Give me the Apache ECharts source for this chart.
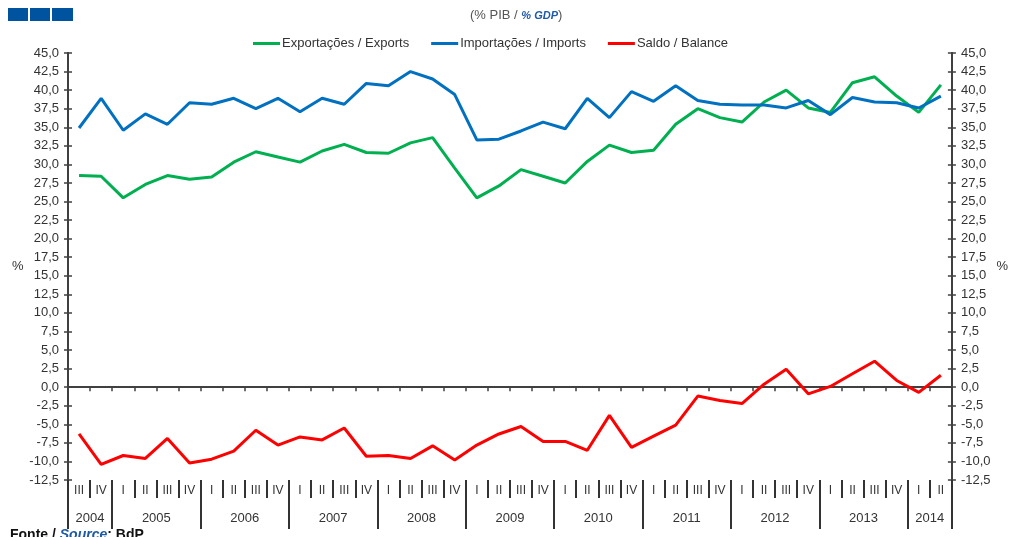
<!DOCTYPE html>
<html>
<head>
<meta charset="utf-8">
<title>Exportações / Importações (% PIB)</title>
<script src="https://cdn.jsdelivr.net/npm/echarts@6/dist/echarts.min.js"></script>
<style>
html, body { margin: 0; padding: 0; background: #fff; }
#chartmain { width: 1011px; height: 537px; }
</style>
</head>
<body>
<div id="chartmain"></div>
<script>
var quarters = ['III', 'IV',
	'I', 'II', 'III', 'IV', 'I', 'II', 'III', 'IV', 'I', 'II', 'III', 'IV',
	'I', 'II', 'III', 'IV', 'I', 'II', 'III', 'IV', 'I', 'II', 'III', 'IV',
	'I', 'II', 'III', 'IV', 'I', 'II', 'III', 'IV', 'I', 'II', 'III', 'IV',
	'I', 'II'];
var years = ['2004', '2004',
	'2005', '2005', '2005', '2005', '2006', '2006', '2006', '2006',
	'2007', '2007', '2007', '2007', '2008', '2008', '2008', '2008',
	'2009', '2009', '2009', '2009', '2010', '2010', '2010', '2010',
	'2011', '2011', '2011', '2011', '2012', '2012', '2012', '2012',
	'2013', '2013', '2013', '2013', '2014', '2014'];

var exportsPib = [28.5, 28.4, 25.5, 27.3, 28.5, 28.0, 28.3, 30.3, 31.7, 31.0,
	30.3, 31.8, 32.7, 31.6, 31.5, 32.9, 33.6, 29.5, 25.5, 27.1,
	29.3, 28.4, 27.5, 30.4, 32.6, 31.6, 31.9, 35.4, 37.5, 36.3,
	35.7, 38.4, 40.0, 37.6, 37.0, 41.0, 41.8, 39.2, 37.0, 40.7];
var importsPib = [34.9, 38.9, 34.6, 36.8, 35.4, 38.3, 38.1, 38.9, 37.5, 38.9,
	37.1, 38.9, 38.1, 40.9, 40.6, 42.5, 41.5, 39.4, 33.3, 33.4,
	34.5, 35.7, 34.8, 38.9, 36.3, 39.8, 38.5, 40.6, 38.6, 38.1,
	38.0, 38.0, 37.6, 38.6, 36.7, 39.0, 38.4, 38.3, 37.6, 39.2];
var balancePib = [-6.3, -10.4, -9.2, -9.6, -6.9, -10.2, -9.7, -8.6, -5.8, -7.8,
	-6.7, -7.1, -5.5, -9.3, -9.2, -9.6, -7.9, -9.8, -7.8, -6.3,
	-5.3, -7.3, -7.3, -8.5, -3.8, -8.1, -6.6, -5.1, -1.2, -1.8,
	-2.2, 0.4, 2.4, -0.9, 0.1, 1.8, 3.5, 0.9, -0.7, 1.6];

var seriesNames = ['Exportações / Exports', 'Importações / Imports', 'Saldo / Balance'];
var seriesColors = ['#00b050', '#0070c0', '#ff0000'];

var font = "'Liberation Sans', Arial, sans-serif";
var axisColor = '#404040';

// ano: primeira categoria de cada ano (separadores) e posicao do rotulo
function isYearStart(i) {
	return i === 0 || years[i] !== years[i - 1];
}
var yearLabelIdx = {};
(function() {
	var start = 0;
	for (var i = 1; i <= years.length; i++) {
		if (i === years.length || years[i] !== years[start]) {
			yearLabelIdx[start + (i - start) / 2 - 1] = true;
			start = i;
		}
	}
})();

function fmt(v) {
	return v.toFixed(1).replace('.', ',');
}

function valueAxis(pos, showLabel, inside, name) {
	return {
		type : 'value',
		position : pos,
		min : -12.5,
		max : 45,
		interval : 2.5,
		name : name,
		nameLocation : 'middle',
		nameRotate : 0,
		nameGap : 44,
		nameTextStyle : { color : '#333', fontSize : 13, fontFamily : font },
		axisLine : { show : true, onZero : false, lineStyle : { color : axisColor, width : 2 } },
		axisTick : { show : true, inside : inside, length : 4, lineStyle : { color : axisColor, width : 1.5 } },
		axisLabel : { show : showLabel, margin : 9, color : '#333', fontSize : 13, fontFamily : font, formatter : fmt },
		splitLine : { show : false }
	};
}

var option = {
	backgroundColor : '#fff',
	animation : false,
	title : {
		left : 465,
		top : 4,
		text : '{a|(% PIB / }{b|% GDP}{a|)}',
		textStyle : {
			fontWeight : 'normal',
			rich : {
				a : { color : '#555', fontSize : 13, fontWeight : 'normal', fontFamily : font },
				b : { color : '#1c5aa6', fontSize : 11, fontWeight : 'bold', fontStyle : 'italic', fontFamily : font }
			}
		}
	},
	legend : {
		left : 253,
		top : 37,
		padding : 0,
		icon : 'rect',
		itemWidth : 27,
		itemHeight : 3,
		itemGap : 22,
		textStyle : { color : '#333', fontSize : 13, fontFamily : font, padding : [0, 0, 0, -3] },
		data : seriesNames
	},
	grid : {
		left : 68,
		right : 58,
		top : 53,
		bottom : 57
	},
	xAxis : [ {
		type : 'category',
		data : quarters,
		position : 'bottom',
		axisLine : { show : true, onZero : true, lineStyle : { color : axisColor, width : 2 } },
		axisTick : { show : true, length : 4, lineStyle : { color : axisColor, width : 1.5 } },
		axisLabel : { show : false }
	}, {
		type : 'category',
		data : quarters,
		position : 'bottom',
		axisLine : { show : false, onZero : false },
		axisTick : { show : true, length : 18, lineStyle : { color : '#333', width : 2 } },
		axisLabel : { show : true, interval : 0, margin : 5, color : '#333', fontSize : 12, fontFamily : font }
	}, {
		type : 'category',
		data : years,
		position : 'bottom',
		axisLine : { show : false, onZero : false },
		axisTick : {
			show : true,
			length : 49,
			interval : function(i) { return isYearStart(i); },
			lineStyle : { color : '#333', width : 2 }
		},
		axisLabel : {
			show : true,
			margin : 32,
			color : '#333',
			fontSize : 13,
			fontFamily : font,
			padding : [0, 0, 0, 22],
			interval : function(i) { return yearLabelIdx[i] === true; }
		}
	} ],
	yAxis : [
		valueAxis('left', true, false, '%'),
		valueAxis('right', true, false, '%'),
		valueAxis('left', false, true, ''),
		valueAxis('right', false, true, '')
	],
	graphic : [
		{ type : 'rect', left : 8, top : 8, shape : { width : 20, height : 13 }, style : { fill : '#00539f' } },
		{ type : 'rect', left : 30, top : 8, shape : { width : 20, height : 13 }, style : { fill : '#00539f' } },
		{ type : 'rect', left : 52, top : 8, shape : { width : 21, height : 13 }, style : { fill : '#00539f' } },
		{
			type : 'text',
			left : 10,
			top : 528,
			style : {
				text : '{k|Fonte / }{s|Source}{k|: BdP}',
				rich : {
					k : { fill : '#111', fontSize : 14, fontWeight : 'bold', fontFamily : font },
					s : { fill : '#1c5aa6', fontSize : 14, fontWeight : 'bold', fontStyle : 'italic', fontFamily : font }
				}
			}
		}
	],
	series : [ {
		name : seriesNames[0],
		type : 'line',
		data : exportsPib,
		symbol : 'none',
		lineStyle : { width : 3, color : seriesColors[0] },
		itemStyle : { color : seriesColors[0] }
	}, {
		name : seriesNames[1],
		type : 'line',
		data : importsPib,
		symbol : 'none',
		lineStyle : { width : 3, color : seriesColors[1] },
		itemStyle : { color : seriesColors[1] }
	}, {
		name : seriesNames[2],
		type : 'line',
		data : balancePib,
		symbol : 'none',
		lineStyle : { width : 3, color : seriesColors[2] },
		itemStyle : { color : seriesColors[2] }
	} ]
};

var myChart = echarts.init(document.getElementById('chartmain'));
myChart.setOption(option);
</script>
</body>
</html>
